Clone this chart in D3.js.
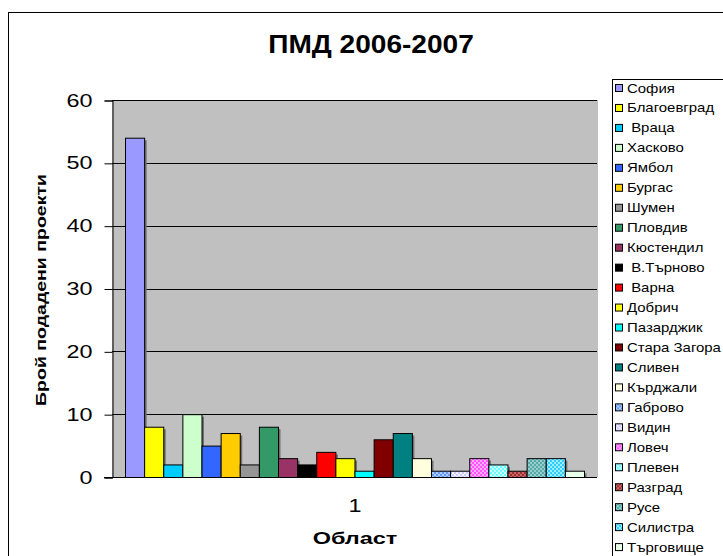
<!DOCTYPE html>
<html>
<head>
<meta charset="utf-8">
<script src="https://cdn.jsdelivr.net/npm/d3@7"></script>
<style>
html,body{margin:0;padding:0;background:#fff;}
svg{display:block;font-family:"Liberation Sans",Arial,sans-serif;}
</style>
</head>
<body>
<script>
const categories = ["София","Благоевград","Враца","Хасково","Ямбол","Бургас","Шумен","Пловдив","Кюстендил","В.Търново","Варна","Добрич","Пазарджик","Стара Загора","Сливен","Кърджали","Габрово","Видин","Ловеч","Плевен","Разград","Русе","Силистра","Търговище"];
const values = [54,8,2,10,5,7,2,8,3,2,4,3,1,6,7,3,1,1,3,2,1,3,3,1];
const legendLabels = ["София","Благоевград"," Враца","Хасково","Ямбол","Бургас","Шумен","Пловдив","Кюстендил"," В.Търново"," Варна","Добрич","Пазарджик","Стара Загора","Сливен","Кърджали","Габрово","Видин","Ловеч","Плевен","Разград","Русе","Силистра","Търговище"];
const yTicks = [0,10,20,30,40,50,60];
const xTickLabels = ["1"];
// fill: [color1, color2 or null for solid]
const fills = [
  ["#9999FF",null],["#FFFF00",null],["#00CCFF",null],["#CCFFCC",null],
  ["#3366FF",null],["#FFCC00",null],["#969696",null],["#339966",null],
  ["#993366",null],["#000000",null],["#FF0000",null],["#FFFF00",null],
  ["#00FFFF",null],["#800000",null],["#008080",null],["#FFFFDD",null],
  ["#6699EE","#AACCFF"],["#CCCCFF","#F0F0FF"],["#FF55FF","#FFAAFF"],["#66FFFF","#CCFFFF"],
  ["#CC6666","#993333"],["#55AAAA","#99CCCC"],["#33CCFF","#99EEFF"],["#E8FFE8",null]
];

const W = 723, H = 556;
const svg = d3.select("body").append("svg").attr("width", W).attr("height", H);
const defs = svg.append("defs");
fills.forEach((f,i)=>{
  if(f[1]){
    const p = defs.append("pattern").attr("id","pat"+i).attr("patternUnits","userSpaceOnUse")
      .attr("width",4).attr("height",4);
    p.append("rect").attr("width",4).attr("height",4).attr("fill",f[0]);
    p.append("rect").attr("width",2).attr("height",2).attr("fill",f[1]);
    p.append("rect").attr("x",2).attr("y",2).attr("width",2).attr("height",2).attr("fill",f[1]);
  }
});
const fillOf = i => fills[i][1] ? `url(#pat${i})` : fills[i][0];

// helper for horizontally stretched text
function stext(g, x, y, str, size, sx, anchor, bold, rot){
  const t = g.append("text")
    .attr("transform",`translate(${x},${y})${rot?` rotate(${rot})`:""} scale(${sx},1)`)
    .attr("text-anchor",anchor).attr("font-size",size).attr("xml:space","preserve").text(str);
  if(bold) t.attr("font-weight","bold");
  return t;
}

// outer frame
svg.append("rect").attr("x",8.5).attr("y",12.5).attr("width",W).attr("height",H)
  .attr("fill","#fff").attr("stroke","#000").attr("stroke-width",1);

// title
stext(svg, 371, 53, "ПМД 2006-2007", 26, 1.08, "middle", true);

const plot = {left:112, right:598, top:100, bottom:477};
const y = d3.scaleLinear().domain([0,60]).range([plot.bottom, plot.top]);
const x = d3.scaleBand().domain(categories).range([125,584]).padding(0);

svg.append("rect").attr("x",plot.left).attr("y",plot.top)
  .attr("width",plot.right-plot.left).attr("height",plot.bottom-plot.top).attr("fill","#C0C0C0");

// gridlines
svg.append("g").selectAll("line").data(yTicks.filter(d=>d>0)).join("line")
  .attr("x1",plot.left).attr("x2",plot.right-1)
  .attr("y1",d=>Math.round(y(d))+0.5).attr("y2",d=>Math.round(y(d))+0.5)
  .attr("stroke","#000").attr("stroke-width",1);

// y axis (line + ticks)
const yAxis = d3.axisLeft(y).tickValues(yTicks).tickSize(8).tickFormat("");
const gy = svg.append("g").attr("transform",`translate(${plot.left+0.5},0.5)`).call(yAxis);
gy.select(".domain").attr("stroke","#000");
gy.selectAll(".tick line").attr("stroke","#000");
// y tick labels
const yl = svg.append("g");
yTicks.forEach(v=>{ stext(yl, 92.5, y(v)+6.5, d3.format("d")(v), 18, 1.3, "end", false); });

// shadows
svg.append("g").selectAll("rect").data(values).join("rect")
  .attr("x",(d,i)=>x(categories[i])+2.5).attr("y",d=>y(d)+2.5)
  .attr("width",x.bandwidth()).attr("height",d=>Math.max(0,plot.bottom-y(d)-2.5))
  .attr("fill","#707070");
// bars
svg.append("g").selectAll("rect").data(values).join("rect")
  .attr("x",(d,i)=>x(categories[i])+0.5).attr("y",d=>y(d)+0.5)
  .attr("width",x.bandwidth()).attr("height",d=>plot.bottom-y(d))
  .attr("fill",(d,i)=>fillOf(i)).attr("stroke","#000").attr("stroke-width",1);

// x axis baseline
svg.append("line").attr("x1",plot.left-8).attr("x2",plot.right-1)
  .attr("y1",plot.bottom+0.5).attr("y2",plot.bottom+0.5).attr("stroke","#000");

// x tick label
const xg = d3.scaleBand().domain(xTickLabels).range([plot.left,plot.right]);
const xl = svg.append("g");
xTickLabels.forEach(d=>{ stext(xl, xg(d)+xg.bandwidth()/2, 512, d, 18, 1.3, "middle", false); });

// axis titles
stext(svg, 355, 544, "Област", 17, 1.38, "middle", true);
stext(svg, 46, 290, "Брой подадени проекти", 15, 1.3, "middle", true, -90);

// legend
svg.append("rect").attr("x",612.5).attr("y",79.5).attr("width",W).attr("height",H)
  .attr("fill","#fff").attr("stroke","#000");
const lg = svg.append("g").selectAll("g").data(legendLabels).join("g")
  .attr("transform",(d,i)=>`translate(615,${88+i*19.96})`);
lg.append("rect").attr("x",0.5).attr("y",-3.5).attr("width",7).attr("height",7)
  .attr("fill",(d,i)=>fillOf(i)).attr("stroke","#000");
lg.each(function(d){ stext(d3.select(this), 12, 4.5, d, 13, 1.15, "start", false); });
</script>
</body>
</html>
